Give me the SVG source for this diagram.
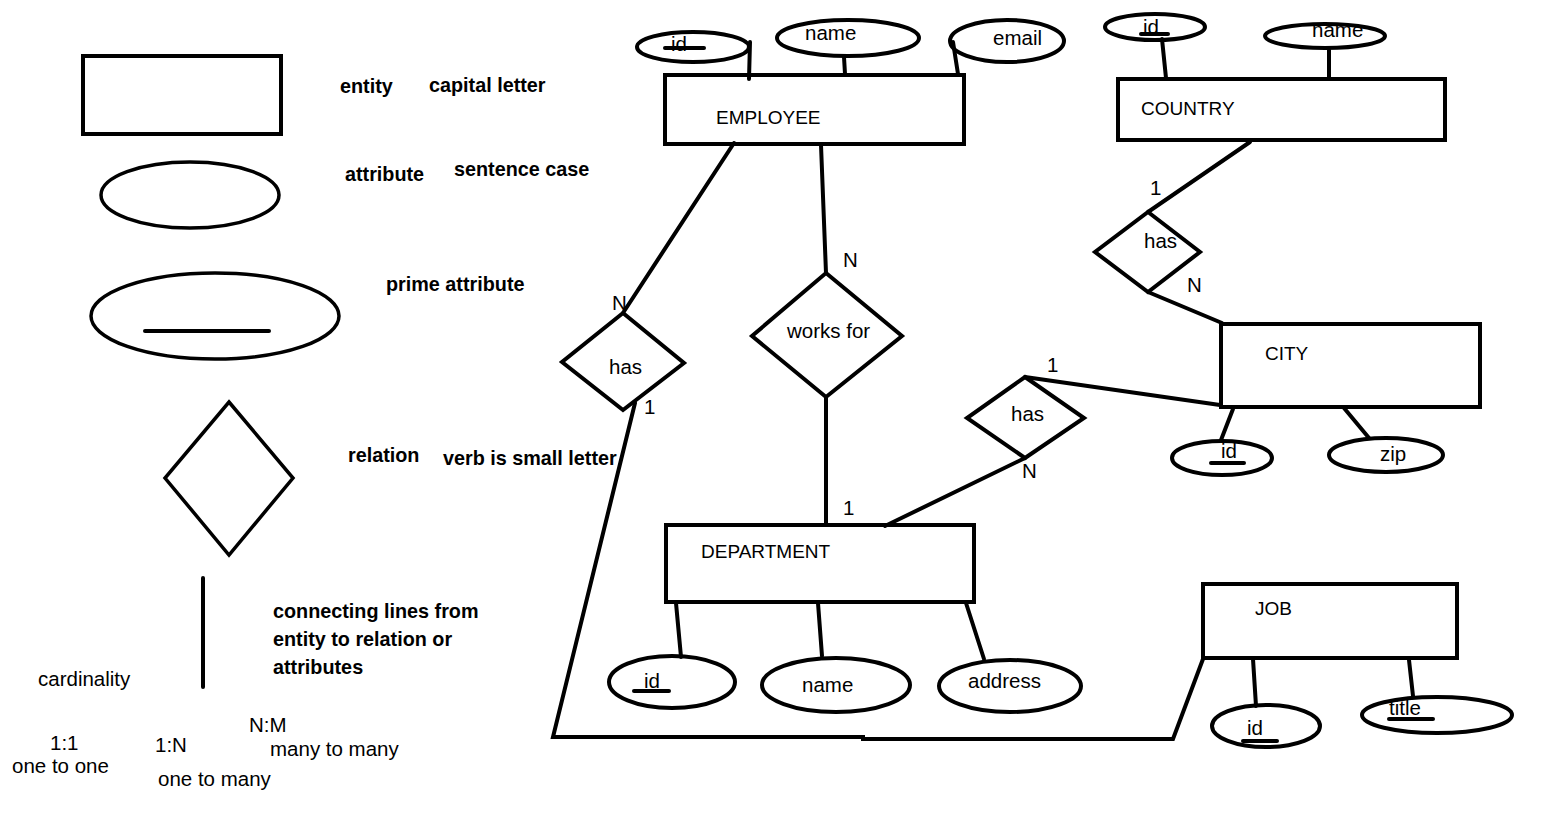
<svg xmlns="http://www.w3.org/2000/svg" width="1546" height="821" viewBox="0 0 1546 821">
<style>
.s{fill:none;stroke:#000;stroke-width:4;stroke-linecap:round;stroke-linejoin:miter}
.t{font-family:"Liberation Sans",Arial,sans-serif;font-size:20.5px;fill:#000}
.u{font-family:"Liberation Sans",Arial,sans-serif;font-size:19px;fill:#000}
.b{font-family:"Liberation Sans",Arial,sans-serif;font-size:19.8px;font-weight:bold;fill:#000}
.ln{fill:none;stroke:#000;stroke-width:4;stroke-linecap:round}
</style>
<rect width="1546" height="821" fill="#fff"/>

<g id="legend">
  <rect class="s" x="83" y="56" width="198" height="78"/>
  <ellipse class="s" cx="190" cy="195" rx="89" ry="33" style="stroke-width:3.5"/>
  <ellipse class="s" cx="215" cy="316" rx="124" ry="43" style="stroke-width:3.5"/>
  <line class="ln" x1="145" y1="331" x2="269" y2="331"/>
  <polygon class="s" points="229,402 293,478 229,555 165,478" style="stroke-width:3.5"/>
  <line class="ln" x1="203" y1="578" x2="203" y2="687"/>
  <text class="b" x="340" y="93">entity</text>
  <text class="b" x="429" y="92">capital letter</text>
  <text class="b" x="345" y="181">attribute</text>
  <text class="b" x="454" y="176">sentence case</text>
  <text class="b" x="386" y="291">prime attribute</text>
  <text class="b" x="348" y="462">relation</text>
  <text class="b" x="443" y="465">verb is small letter</text>
  <text class="b" x="273" y="618">connecting lines from</text>
  <text class="b" x="273" y="646">entity to relation or</text>
  <text class="b" x="273" y="674">attributes</text>
  <text class="t" x="38" y="686">cardinality</text>
  <text class="t" x="50" y="750">1:1</text>
  <text class="t" x="12" y="773">one to one</text>
  <text class="t" x="155" y="752">1:N</text>
  <text class="t" x="158" y="786">one to many</text>
  <text class="t" x="249" y="732">N:M</text>
  <text class="t" x="270" y="756">many to many</text>
</g>

<g id="connectors">
  <line class="ln" x1="750" y1="42" x2="749" y2="79"/>
  <line class="ln" x1="844" y1="57" x2="845" y2="74"/>
  <line class="ln" x1="953" y1="42" x2="958" y2="74"/>
  <line class="ln" x1="1162" y1="39" x2="1166" y2="78"/>
  <line class="ln" x1="1329" y1="50" x2="1329" y2="78"/>
  <line class="ln" x1="1250" y1="142" x2="1148" y2="212"/>
  <line class="ln" x1="1148" y1="292" x2="1222" y2="323"/>
  <line class="ln" x1="1025" y1="377" x2="1220" y2="405"/>
  <line class="ln" x1="1025" y1="458" x2="885" y2="526"/>
  <line class="ln" x1="1233" y1="409" x2="1221" y2="440"/>
  <line class="ln" x1="1344" y1="408" x2="1369" y2="438"/>
  <line class="ln" x1="1253" y1="659" x2="1256" y2="706"/>
  <line class="ln" x1="1409" y1="660" x2="1413" y2="696"/>
  <polyline class="ln" points="1203,659 1173,739 863,739 863,737 553,737 635,403"/>
  <line class="ln" x1="734" y1="143" x2="623" y2="313"/>
  <line class="ln" x1="821" y1="145" x2="826" y2="273"/>
  <line class="ln" x1="826" y1="397" x2="826" y2="524"/>
  <line class="ln" x1="676" y1="603" x2="681" y2="657"/>
  <line class="ln" x1="818" y1="603" x2="822" y2="656"/>
  <line class="ln" x1="966" y1="603" x2="984" y2="659"/>
  <text class="t" x="843" y="267">N</text>
  <text class="t" x="612" y="310">N</text>
  <text class="t" x="644" y="414">1</text>
  <text class="t" x="843" y="515">1</text>
  <text class="t" x="1150" y="195">1</text>
  <text class="t" x="1187" y="292">N</text>
  <text class="t" x="1047" y="372">1</text>
  <text class="t" x="1022" y="478">N</text>
</g>

<g id="employee">
  <rect class="s" x="665" y="75" width="299" height="69"/>
  <text class="u" x="716" y="124">EMPLOYEE</text>
</g>
<g id="employee-id">
  <ellipse class="s" cx="693" cy="47" rx="56" ry="15"/>
  <text class="t" x="671" y="51">id</text>
  <line class="ln" x1="665" y1="48" x2="704" y2="48"/>
</g>
<g id="employee-name">
  <ellipse class="s" cx="848" cy="38" rx="71" ry="18"/>
  <text class="t" x="805" y="40">name</text>
</g>
<g id="employee-email">
  <ellipse class="s" cx="1007" cy="41" rx="57" ry="21"/>
  <text class="t" x="993" y="45">email</text>
</g>

<g id="country">
  <rect class="s" x="1118" y="79" width="327" height="61"/>
  <text class="u" x="1141" y="115">COUNTRY</text>
</g>
<g id="country-id">
  <ellipse class="s" cx="1155" cy="27" rx="50" ry="13"/>
  <text class="t" x="1143" y="34">id</text>
  <line class="ln" x1="1141" y1="34" x2="1168" y2="34"/>
</g>
<g id="country-name">
  <ellipse class="s" cx="1325" cy="36" rx="60" ry="12"/>
  <text class="t" x="1312" y="37">name</text>
</g>

<g id="rel-country-city">
  <polygon class="s" points="1148,212 1200,252 1148,292 1095,252"/>
  <text class="t" x="1144" y="248">has</text>
</g>

<g id="city">
  <rect class="s" x="1221" y="324" width="259" height="83"/>
  <text class="u" x="1265" y="360">CITY</text>
</g>
<g id="city-id">
  <ellipse class="s" cx="1222" cy="458" rx="50" ry="17"/>
  <text class="t" x="1221" y="458">id</text>
  <line class="ln" x1="1211" y1="463" x2="1244" y2="463"/>
</g>
<g id="city-zip">
  <ellipse class="s" cx="1386" cy="455" rx="57" ry="17"/>
  <text class="t" x="1380" y="461">zip</text>
</g>

<g id="rel-city-dept">
  <polygon class="s" points="1025,377 1084,418 1025,458 967,418"/>
  <text class="t" x="1011" y="421">has</text>
</g>

<g id="rel-works-for">
  <polygon class="s" points="826,273 902,336 826,397 752,336"/>
  <text class="t" x="787" y="338">works for</text>
</g>

<g id="rel-has-job">
  <polygon class="s" points="623,313 684,363 623,410 562,362"/>
  <text class="t" x="609" y="374">has</text>
</g>

<g id="department">
  <rect class="s" x="666" y="525" width="308" height="77"/>
  <text class="u" x="701" y="558">DEPARTMENT</text>
</g>
<g id="department-id">
  <ellipse class="s" cx="672" cy="682" rx="63" ry="26"/>
  <text class="t" x="644" y="688">id</text>
  <line class="ln" x1="634" y1="691" x2="669" y2="691"/>
</g>
<g id="department-name">
  <ellipse class="s" cx="836" cy="685" rx="74" ry="27"/>
  <text class="t" x="802" y="692">name</text>
</g>
<g id="department-address">
  <ellipse class="s" cx="1010" cy="686" rx="71" ry="26"/>
  <text class="t" x="968" y="688">address</text>
</g>

<g id="job">
  <rect class="s" x="1203" y="584" width="254" height="74"/>
  <text class="u" x="1255" y="615">JOB</text>
</g>
<g id="job-id">
  <ellipse class="s" cx="1266" cy="726" rx="54" ry="21"/>
  <text class="t" x="1247" y="735">id</text>
  <line class="ln" x1="1243" y1="741" x2="1277" y2="741"/>
</g>
<g id="job-title">
  <ellipse class="s" cx="1437" cy="715" rx="75" ry="18"/>
  <text class="t" x="1389" y="715">title</text>
  <line class="ln" x1="1389" y1="719" x2="1433" y2="719"/>
</g>
</svg>
